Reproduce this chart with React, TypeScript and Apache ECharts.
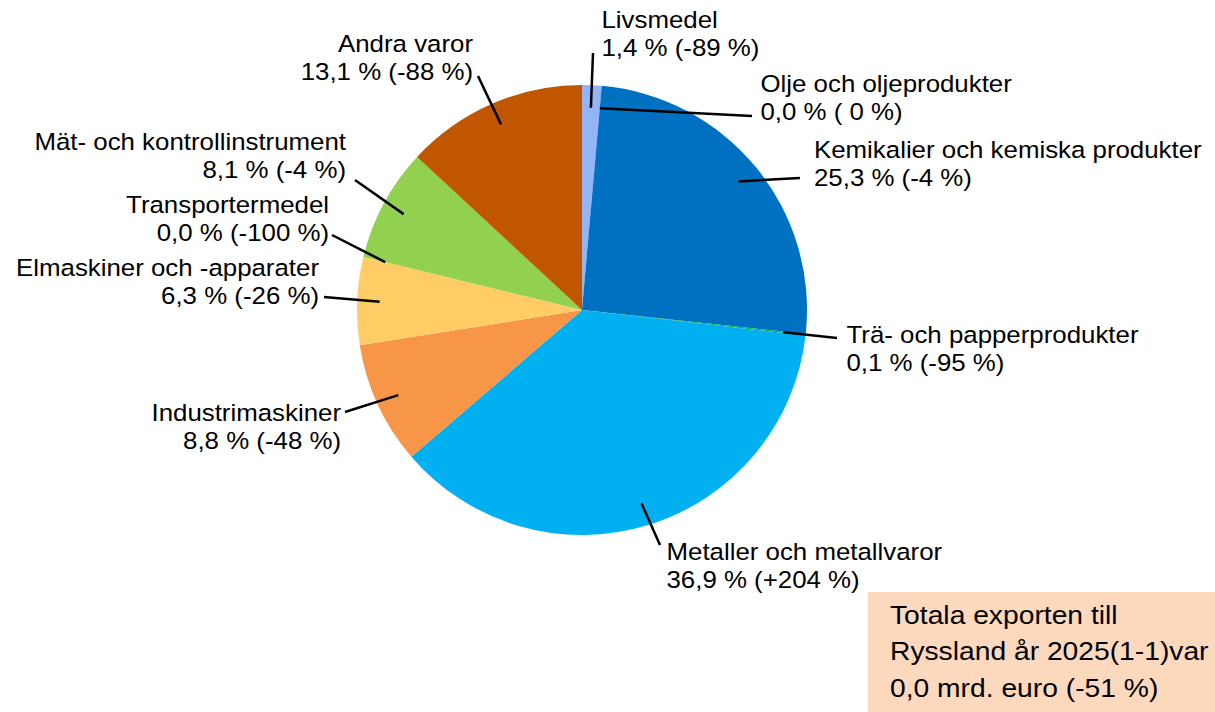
import React, { useEffect, useRef } from "react";
import * as echarts from "echarts";

const names = [
  "Livsmedel",
  "Olje och oljeprodukter",
  "Kemikalier och kemiska produkter",
  "Trä- och papperprodukter",
  "Metaller och metallvaror",
  "Industrimaskiner",
  "Elmaskiner och -apparater",
  "Transportermedel",
  "Mät- och kontrollinstrument",
  "Andra varor",
];
const shares = [1.4, 0.0, 25.3, 0.1, 36.9, 8.8, 6.3, 0.0, 8.1, 13.1];
const changes = [-89, 0, -4, -95, 204, -48, -26, -100, -4, -88];
const colors = [
  "#93B5F8",
  "#1F4E79",
  "#0070C0",
  "#00B050",
  "#00B0F0",
  "#F79646",
  "#FFCC66",
  "#7F7F7F",
  "#92D050",
  "#C05600",
];
const boxLines = [
  "Totala exporten till",
  "Ryssland år 2025(1-1)var",
  "0,0 mrd. euro (-51 %)",
];

// layout (label anchor & leader-line end), not data
const CX = 582;
const CY = 310;
const R = 225;
const placements: { x: number; y: number; align: string; end: number[] }[] = [
  { x: 601.5, y: 34, align: "left", end: [593, 53] },
  { x: 760.5, y: 98, align: "left", end: [752, 116] },
  { x: 814, y: 164, align: "left", end: [800, 178] },
  { x: 846.5, y: 349, align: "left", end: [837, 338] },
  { x: 666.5, y: 566, align: "left", end: [660, 545] },
  { x: 341, y: 427, align: "right", end: [345, 412] },
  { x: 319, y: 282, align: "right", end: [324, 297] },
  { x: 329, y: 219, align: "right", end: [332, 235] },
  { x: 346, y: 156, align: "right", end: [355, 180] },
  { x: 473, y: 58, align: "right", end: [478, 76] },
];

const fmtShare = (v: number) => v.toFixed(1).replace(".", ",");
const fmtChange = (v: number) => (v > 0 ? "+" + v : v === 0 ? " 0" : String(v));

function innerPoint(i: number): number[] {
  const total = shares.reduce((a, b) => a + b, 0);
  let cum = 0;
  for (let k = 0; k < i; k++) cum += shares[k];
  const theta = (2 * Math.PI * (cum + shares[i] / 2)) / total;
  const f = 0.9;
  return [CX + f * R * Math.sin(theta), CY - f * R * Math.cos(theta)];
}

const FONT = "'Liberation Sans', Arial, sans-serif";

export default function App() {
  const ref = useRef<HTMLDivElement>(null);
  useEffect(() => {
    if (!ref.current) return;
    const chart = echarts.init(ref.current, null, { renderer: "svg" });

    const leaderLines = names.map((_, i) => ({
      type: "polyline",
      z: 100,
      silent: true,
      shape: { points: [innerPoint(i), placements[i].end] },
      style: { stroke: "#000", lineWidth: 2.5, fill: null },
    }));
    const labelTexts = names.map((n, i) => ({
      type: "text",
      z: 100,
      silent: true,
      x: placements[i].x,
      y: placements[i].y,
      scaleX: 1.1,
      style: {
        text: `${n}\n${fmtShare(shares[i])} % (${fmtChange(changes[i])} %)`,
        fill: "#000",
        fontFamily: FONT,
        fontSize: 23.5,
        lineHeight: 28,
        align: placements[i].align,
        verticalAlign: "middle",
      },
    }));

    chart.setOption({
      animation: false,
      backgroundColor: "#ffffff",
      series: [
        {
          type: "pie",
          center: [CX, CY],
          radius: R,
          startAngle: 90,
          clockwise: true,
          avoidLabelOverlap: false,
          emphasis: { disabled: true },
          silent: true,
          itemStyle: { borderWidth: 0 },
          label: { show: false },
          labelLine: { show: false },
          data: names.map((n, i) => ({
            name: n,
            value: shares[i],
            itemStyle: { color: colors[i] },
          })),
        },
      ],
      graphic: [
        ...leaderLines,
        ...labelTexts,
        {
          type: "rect",
          z: 100,
          shape: { x: 868, y: 592, width: 347, height: 120 },
          style: { fill: "#FCD9BD" },
          silent: true,
        },
        {
          type: "text",
          z: 101,
          x: 890,
          y: 597,
          scaleX: 1.13,
          silent: true,
          style: {
            text: boxLines.join("\n"),
            fill: "#000",
            fontSize: 25,
            fontFamily: FONT,
            lineHeight: 36.5,
            verticalAlign: "top",
            align: "left",
          },
        },
      ],
    });
    return () => chart.dispose();
  }, []);
  return (
    <div
      ref={ref}
      style={{ position: "fixed", left: 0, top: 0, width: 1215, height: 712, background: "#fff" }}
    />
  );
}
